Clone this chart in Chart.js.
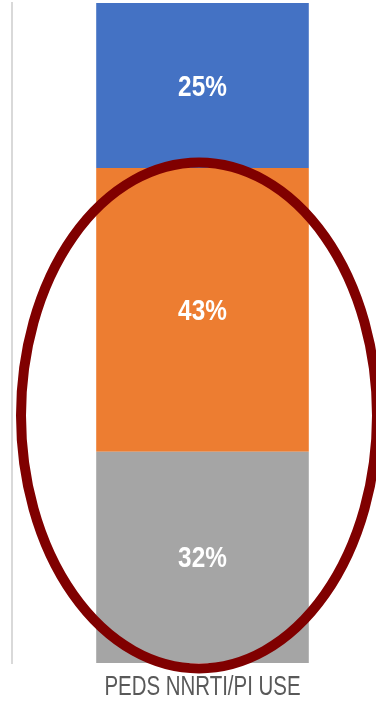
<!DOCTYPE html>
<html>
<head>
<meta charset="utf-8">
<script src="https://cdn.jsdelivr.net/npm/chart.js@4.4.1/dist/chart.umd.min.js"></script>
<style>
  html, body { margin: 0; padding: 0; background: #ffffff; overflow: hidden; }
  body { width: 376px; height: 703px; }
  #wrap { position: relative; width: 393px; height: 703px; }
</style>
</head>
<body>
<div id="wrap"><canvas id="chart"></canvas></div>
<script>
// Regimen mix among paediatric patients (percent of total)
const categories = ['PEDS NNRTI/PI USE'];
const seriesNames = ['Other', 'PI', 'NNRTI'];
const seriesBottom = [32];   // grey segment
const seriesMiddle = [43];   // orange segment
const seriesTop = [25];      // blue segment
const percentMax = 100;

const FONT = '"Liberation Sans", Arial, sans-serif';

// Draw text squeezed horizontally to get a narrow, Calibri-like face
function narrowText(ctx, text, x, y, squeeze) {
  ctx.save();
  ctx.translate(x, y);
  ctx.scale(squeeze, 1);
  ctx.fillText(text, 0, 0);
  ctx.restore();
}

// White percentage labels centred inside each segment
const segmentLabels = {
  id: 'segmentLabels',
  afterDatasetsDraw(chart) {
    const ctx = chart.ctx;
    ctx.save();
    ctx.fillStyle = '#ffffff';
    ctx.font = 'bold 29px ' + FONT;
    ctx.textAlign = 'center';
    ctx.textBaseline = 'middle';
    chart.data.datasets.forEach((ds, i) => {
      const meta = chart.getDatasetMeta(i);
      meta.data.forEach((bar, j) => {
        const v = ds.data[j];
        const yMid = (bar.y + bar.base) / 2;
        narrowText(ctx, v + '%', bar.x, yMid + 2, 0.84);
      });
    });
    ctx.restore();
  }
};

// Category name under the bar
const categoryLabels = {
  id: 'categoryLabels',
  afterDraw(chart) {
    const ctx = chart.ctx;
    const xs = chart.scales.x;
    ctx.save();
    ctx.fillStyle = '#595959';
    ctx.font = '28px ' + FONT;
    ctx.textAlign = 'center';
    ctx.textBaseline = 'middle';
    chart.data.labels.forEach((lab, i) => {
      narrowText(ctx, lab, xs.getPixelForTick(i), chart.chartArea.bottom + 24, 0.73);
    });
    ctx.restore();
  }
};

// Dark red highlight ring around the lower two segments
const highlightRing = {
  id: 'highlightRing',
  afterDraw(chart) {
    const a = chart.chartArea;
    const ctx = chart.ctx;
    const cx = (a.left + a.right) / 2 - 3.5;
    const cy = a.top + (a.bottom - a.top) * 0.625;
    ctx.save();
    ctx.strokeStyle = '#800000';
    ctx.lineWidth = 10;
    ctx.beginPath();
    ctx.ellipse(cx, cy, 178, 253, 0, 0, Math.PI * 2);
    ctx.stroke();
    ctx.restore();
  }
};

new Chart(document.getElementById('chart'), {
  type: 'bar',
  data: {
    labels: categories,
    datasets: [
      { label: seriesNames[0], data: seriesBottom, backgroundColor: '#a5a5a5' },
      { label: seriesNames[1], data: seriesMiddle, backgroundColor: '#ed7d31' },
      { label: seriesNames[2], data: seriesTop, backgroundColor: '#4472c4' }
    ]
  },
  options: {
    responsive: true,
    maintainAspectRatio: false,
    animation: false,
    layout: { padding: { top: 3, left: 12, right: 0, bottom: 40 } },
    datasets: { bar: { barPercentage: 0.558, categoryPercentage: 1, borderWidth: 0 } },
    plugins: {
      legend: { display: false },
      tooltip: { enabled: false }
    },
    scales: {
      x: {
        stacked: true,
        grid: { display: false, drawTicks: false },
        border: { display: false },
        ticks: { display: false }
      },
      y: {
        stacked: true,
        min: 0,
        max: percentMax,
        grid: { display: false, drawTicks: false },
        border: { display: true, color: '#d9d9d9', width: 2 },
        ticks: { display: false }
      }
    }
  },
  plugins: [segmentLabels, categoryLabels, highlightRing]
});
</script>
</body>
</html>
